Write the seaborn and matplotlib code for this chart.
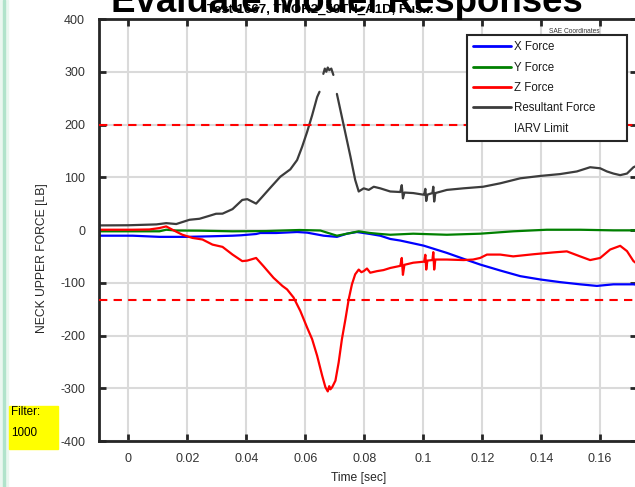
import numpy as np
import pandas as pd
import matplotlib
matplotlib.use("Agg")
import matplotlib.pyplot as plt
import seaborn as sns
from matplotlib.lines import Line2D
from matplotlib.patches import Rectangle

# ---------------- data ----------------
x_time = [-0.0098, 0.0014, 0.0105, 0.0196, 0.0275, 0.0353, 0.0382, 0.0433, 0.0447, 0.0501,
          0.0572, 0.0606, 0.0662, 0.0707, 0.0741, 0.0775, 0.0820, 0.0854, 0.0888, 0.0922,
          0.1001, 0.1080, 0.1137, 0.1193, 0.1261, 0.1329, 0.1397, 0.1464, 0.1532, 0.1589,
          0.1645, 0.1713, 0.1725]
x_force = [-10.8, -10.8, -13, -13, -12, -10.8, -10, -7.6, -5.7, -5.7,
           -3.8, -5, -10.8, -13, -7, -3.8, -7.6, -10.8, -17, -20,
           -29.6, -43.4, -54.7, -65.5, -76.8, -87.5, -93.8, -98.8, -103, -106,
           -103, -103, -104]

y_time = [-0.0098, 0.0014, 0.0105, 0.0128, 0.0162, 0.0241, 0.0353, 0.0467, 0.0580, 0.0651,
          0.0707, 0.0741, 0.0781, 0.0820, 0.0854, 0.0888, 0.0966, 0.1080, 0.1193, 0.1305,
          0.1419, 0.1532, 0.1645, 0.1725]
y_force = [-2.5, -2.5, -2.5, 0.5, -1, -1.3, -2.5, -2, 0, -1,
           -10.8, -7, -2.5, -5.7, -7.5, -9, -7, -9, -7, -2.5,
           0.5, 0.5, -0.7, -0.7]

z_time = [-0.0098, 0.0014, 0.0071, 0.0105, 0.0128, 0.0149, 0.0183, 0.0217, 0.0251, 0.0285,
          0.0319, 0.0353, 0.0386, 0.0403, 0.0433, 0.0458, 0.0492, 0.0522, 0.0538, 0.0560,
          0.0583, 0.0606, 0.0623, 0.0640, 0.0657, 0.0668, 0.0676, 0.0681, 0.0685, 0.0691,
          0.0702, 0.0713, 0.0724, 0.0736, 0.0747, 0.0758, 0.0769, 0.0781, 0.0790, 0.0798,
          0.0809, 0.0820, 0.0843, 0.0865, 0.0888, 0.0922, 0.0927, 0.0931, 0.0936, 0.0966,
          0.1003, 0.1007, 0.1010, 0.1014, 0.1031, 0.1034, 0.1037, 0.1041, 0.1080, 0.1137,
          0.1169, 0.1193, 0.1216, 0.1261, 0.1305, 0.1373, 0.1441, 0.1487, 0.1532, 0.1566,
          0.1600, 0.1634, 0.1668, 0.1691, 0.1713, 0.1725]
z_force = [0.5, 0.5, 1, 3.7, 6.8, 0.5, -9, -15, -18, -27.7,
           -32, -46.6, -59, -58, -53, -68.6, -90.6, -106, -112.6, -128,
           -153.6, -185, -207, -238.5, -276, -298, -306, -296, -302, -298,
           -285.6, -251, -207, -169, -131.5, -103, -84, -75, -80, -78,
           -73, -81, -78, -76, -72, -68, -53, -85, -66, -62,
           -60, -47, -75, -58, -57, -42, -75, -56, -56, -57,
           -56, -53, -46.6, -46.6, -50, -46, -42.5, -40.5, -50, -57,
           -53, -37, -30, -40, -59, -64]

res_time = [-0.0098, 0.0000, 0.0095, 0.0128, 0.0162, 0.0207, 0.0241, 0.0275, 0.0297, 0.0319,
            0.0353, 0.0386, 0.0403, 0.0433, 0.0454, 0.0481, 0.0515, 0.0549, 0.0572, 0.0589,
            0.0606, 0.0623, 0.0640, 0.0648,
            0.0661, 0.0666, 0.0671, 0.0676, 0.0681, 0.0688, 0.0695,
            0.0707, 0.0719, 0.0736, 0.0753, 0.0769, 0.0781, 0.0798, 0.0815, 0.0832, 0.0854,
            0.0888, 0.0922, 0.0927, 0.0931, 0.0936, 0.0966, 0.1000, 0.1003, 0.1007, 0.1010,
            0.1014, 0.1031, 0.1034, 0.1037, 0.1041, 0.1080, 0.1136, 0.1203, 0.1261, 0.1329,
            0.1397, 0.1464, 0.1521, 0.1566, 0.1600, 0.1623, 0.1645, 0.1668, 0.1691, 0.1713,
            0.1725]
res_force = [8.7, 9, 10.6, 13, 11.3, 19.4, 21.3, 27, 30.8, 31,
             39.6, 57, 58.5, 50, 63, 80, 101, 115, 132.6, 157.7,
             186, 217.5, 252, 262,
             296, 306, 300, 308, 303, 306, 294,
             258, 227, 183, 139, 95, 73, 79, 76, 82, 79,
             73, 72, 85, 60, 71, 70, 67, 67, 78, 55,
             67, 70, 82, 54, 70, 76, 79, 82, 88.5, 98,
             102.5, 106, 111, 119, 117, 111, 107, 104, 107, 119,
             122]
res_segment = [0] * 24 + [1] * 7 + [2] * 41

iarv_limits = [200, -132]

x_ticks = [0, 0.02, 0.04, 0.06, 0.08, 0.1, 0.12, 0.14, 0.16]
x_tick_labels = ["0", "0.02", "0.04", "0.06", "0.08", "0.1", "0.12", "0.14", "0.16"]
y_ticks = [-400, -300, -200, -100, 0, 100, 200, 300, 400]
y_tick_labels = ["-400", "-300", "-200", "-100", "0", "100", "200", "300", "400"]

legend_labels = ["X Force", "Y Force", "Z Force", "Resultant Force", "IARV Limit"]

# ---------------- styling ----------------
sns.set_theme(style="white")
plt.rcParams['font.family'] = ['Liberation Sans', 'DejaVu Sans']
plt.rcParams['axes.unicode_minus'] = False

W, H = 635, 487
fig = plt.figure(figsize=(W / 100, H / 100), dpi=100)
fig.patch.set_facecolor("white")


def fx(px):
    return px / W


def fy(py):
    return 1 - py / H


ax = fig.add_axes([fx(99), fy(441), (637 - 99) / W, (441 - 19) / H])
ax.set_facecolor("white")

BLUE, GREEN, RED, DARK = "#0000ff", "#008000", "#ff0000", "#3c3c3c"
LW = 1.6

df_x = pd.DataFrame({"t": x_time, "v": x_force})
df_y = pd.DataFrame({"t": y_time, "v": y_force})
df_z = pd.DataFrame({"t": z_time, "v": z_force})
df_r = pd.DataFrame({"t": res_time, "v": res_force, "seg": res_segment})

sns.lineplot(data=df_x, x="t", y="v", color=BLUE, lw=LW, estimator=None, sort=False, ax=ax)
sns.lineplot(data=df_y, x="t", y="v", color=GREEN, lw=LW, estimator=None, sort=False, ax=ax)
sns.lineplot(data=df_z, x="t", y="v", color=RED, lw=LW, estimator=None, sort=False, ax=ax)
sns.lineplot(data=df_r, x="t", y="v", units="seg", color=DARK, lw=LW, estimator=None,
             sort=False, ax=ax)

for lim in iarv_limits:
    ax.axhline(lim, color=RED, lw=1.5, dashes=(4, 3), zorder=3)

ax.set_xlim(-0.01, 0.1725)
ax.set_ylim(-400, 400)
ax.set_xticks(x_ticks)
ax.set_xticklabels(x_tick_labels)
ax.set_yticks(y_ticks)
ax.set_yticklabels(y_tick_labels)
ax.set_xlabel("")
ax.set_ylabel("")

ax.grid(True, color="#dadada", lw=1.5)
ax.set_axisbelow(True)
for s in ax.spines.values():
    s.set_color("#262626")
    s.set_linewidth(2)
ax.tick_params(axis="both", direction="in", length=5, width=2, color="#262626",
               top=True, right=True, bottom=True, left=True,
               labelsize=9, labelcolor="#333333")
ax.tick_params(axis="y", pad=10)
ax.tick_params(axis="x", pad=9)

handles = [Line2D([], [], color=BLUE, lw=2),
           Line2D([], [], color=GREEN, lw=2),
           Line2D([], [], color=RED, lw=2),
           Line2D([], [], color=DARK, lw=2),
           Line2D([], [], color="none", lw=2)]
leg = ax.legend(handles, legend_labels, loc="upper left",
                bbox_to_anchor=(fx(467), fy(35), 160 / W, 0.0),
                bbox_transform=fig.transFigure, mode="expand", borderaxespad=0,
                fontsize=8.3, handlelength=3.3, handletextpad=0.2,
                labelspacing=0.72, borderpad=0.55, fancybox=False,
                framealpha=1, frameon=True)
frame = leg.get_frame()
frame.set_edgecolor("#262626")
frame.set_linewidth(1.5)
for t in leg.get_texts():
    t.set_color("#1a1a1a")

# titles
fig.text(fx(347), fy(12), "Evaluate Model Responses", ha="center", va="baseline",
         fontsize=26.4, fontweight="bold", color="black")
fig.text(fx(207), fy(13), "Test 1667, THOR2_50TH_A1D, Fus...", ha="left", va="baseline",
         fontsize=9.5, fontweight="bold", color="black")
fig.text(fx(574.5), fy(31.5), "SAE Coordinates", ha="center", va="center",
         fontsize=4.8, color="#333333")

# axis labels
fig.text(fx(42.5), fy(258), "NECK UPPER FORCE [LB]", rotation=90, ha="center",
         va="center", fontsize=8.75, color="#262626")
fig.text(fx(359), fy(478), "Time [sec]", ha="center", va="center",
         fontsize=8.75, color="#262626")

# left strip
fig.patches.append(Rectangle((0, 0), fx(8), 1, transform=fig.transFigure,
                             color="#eaf7f0", zorder=0))
fig.patches.append(Rectangle((fx(3), 0), fx(2), 1, transform=fig.transFigure,
                             color="#b0e3cb", zorder=0))

# filter box
fig.patches.append(Rectangle((fx(9), fy(449)), 49 / W, 43 / H, transform=fig.transFigure,
                             color="#ffff00", zorder=0))
fig.text(fx(11), fy(412), "Filter:", ha="left", va="center", fontsize=8.4, color="black")
fig.text(fx(11), fy(433), "1000", ha="left", va="center", fontsize=8.4, color="black")

fig.savefig("out.png", dpi=100)
